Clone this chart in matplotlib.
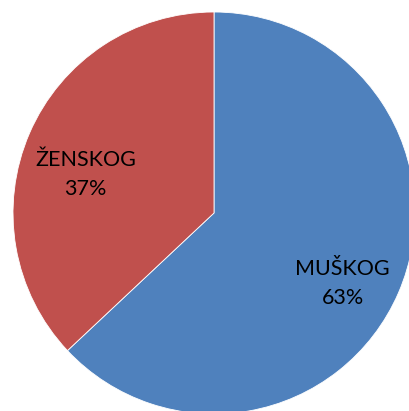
import matplotlib.pyplot as plt

categories = ['MUŠKOG', 'ŽENSKOG']
values = [63, 37]
colors = ['#4F81BD', '#C0504D']
# label positions in axes data coords (radius = 1)
label_pos = [(0.64, -0.35), (-0.64, 0.19)]

plt.rcParams['font.family'] = ['Lato', 'DejaVu Sans']

fig = plt.figure(figsize=(4.09, 4.11), dpi=100)
ax = fig.add_axes([13 / 409, -3 / 411, 402 / 409, 402 / 411])
ax.pie(values, colors=colors, startangle=90, counterclock=False, radius=1,
       wedgeprops=dict(edgecolor='white', linewidth=0.6))
for name, val, (x, y) in zip(categories, values, label_pos):
    ax.text(x, y, '{}\n{}%'.format(name, val), ha='center', va='center',
            fontsize=15.5, linespacing=1.55)
ax.set_xlim(-1, 1)
ax.set_ylim(-1, 1)
ax.set_aspect('equal')
ax.axis('off')
fig.savefig('out.png', dpi=100)
